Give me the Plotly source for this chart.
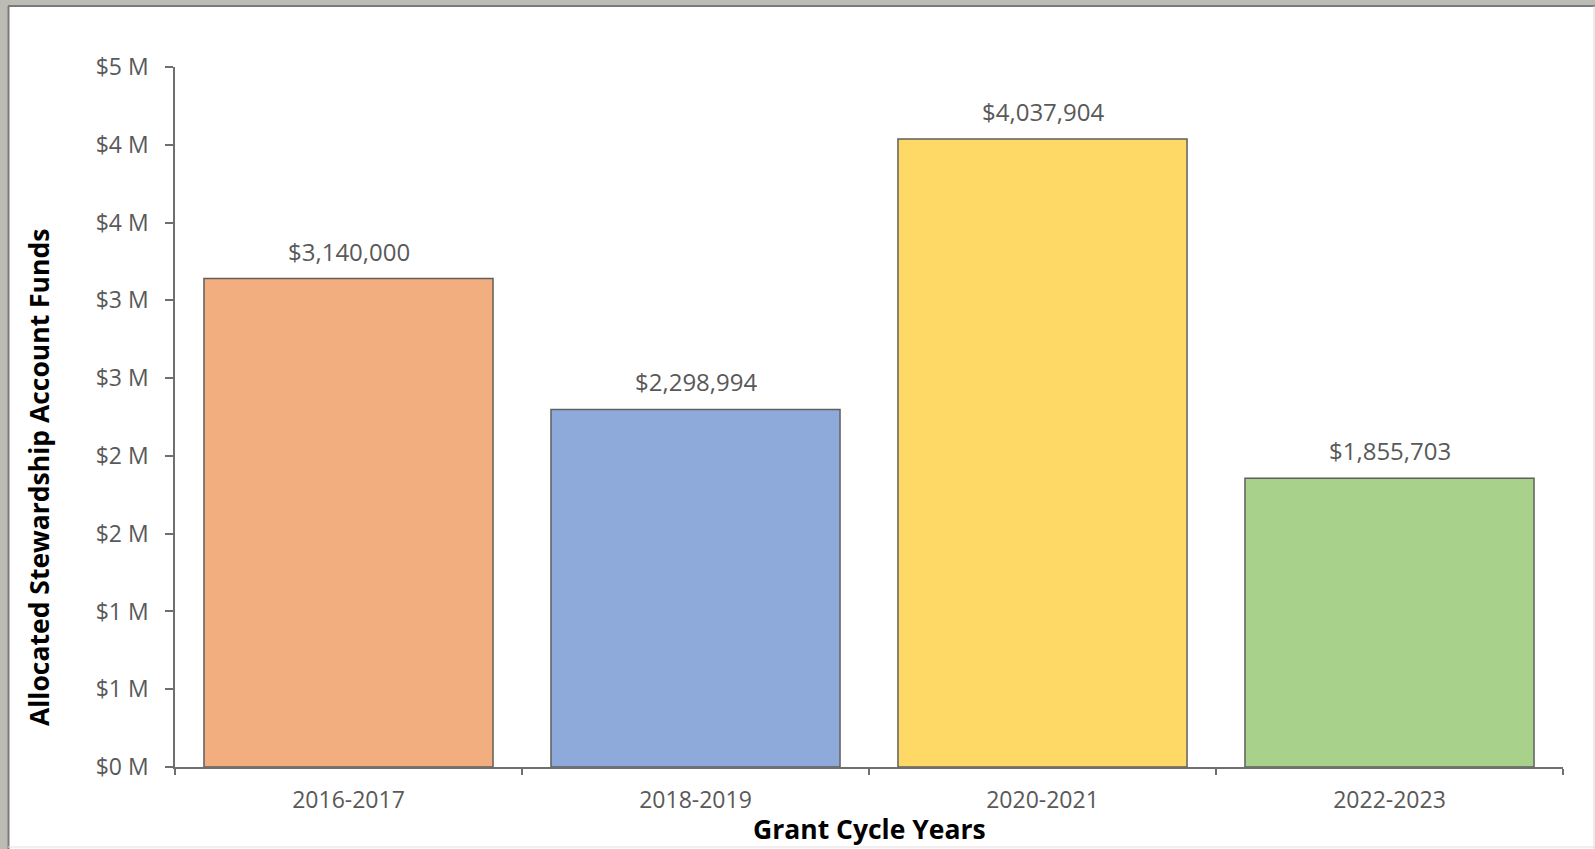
import plotly.graph_objects as go

categories = ["2016-2017", "2018-2019", "2020-2021", "2022-2023"]
values = [3140000, 2298994, 4037904, 1855703]
value_labels = ["$3,140,000", "$2,298,994", "$4,037,904", "$1,855,703"]
bar_colors = ["#F2AE7E", "#8EAADB", "#FFD966", "#A8D18C"]
tick_values = [0, 500000, 1000000, 1500000, 2000000, 2500000, 3000000, 3500000, 4000000, 4500000]
tick_labels = ["$0 M", "$1 M", "$1 M", "$2 M", "$2 M", "$3 M", "$3 M", "$4 M", "$4 M", "$5 M"]

W, H = 1595, 849
L, R, T, B = 175, 32, 67, 82
pw, ph = W - L - R, H - T - B

def px_x(p):
    return (p - L) / pw

def px_y(p):
    return (H - B - p) / ph

FONT = "Open Sans"
GREY = "#595959"

fig = go.Figure()
fig.add_trace(go.Bar(
    x=categories, y=values,
    marker=dict(color=bar_colors, line=dict(color="#5f5f5f", width=1.5)),
    width=0.833,
    hoverinfo="x+y",
))

for c, v, t in zip(categories, values, value_labels):
    fig.add_annotation(x=c, y=v, text=t, showarrow=False, yanchor="bottom",
                       yshift=9, font=dict(family=FONT, size=24, color=GREY))

# axis titles
fig.add_annotation(xref="paper", yref="paper", x=px_x(39), y=px_y(478),
                   text="Allocated Stewardship Account Funds", textangle=-90,
                   showarrow=False, xanchor="center", yanchor="middle",
                   font=dict(family=FONT, size=26.5, color="#000000", weight="bold"))
fig.add_annotation(xref="paper", yref="paper", x=0.5, y=px_y(829),
                   text="Grant Cycle Years", showarrow=False,
                   xanchor="center", yanchor="middle",
                   font=dict(family=FONT, size=26.5, color="#000000", weight="bold"))

# frame
shapes = [
    dict(type="rect", xref="paper", yref="paper", x0=px_x(0), x1=px_x(8), y0=px_y(H), y1=px_y(0),
         fillcolor="#bdbcb4", line=dict(width=0), layer="below"),
    dict(type="rect", xref="paper", yref="paper", x0=px_x(0), x1=px_x(W), y0=px_y(5), y1=px_y(0),
         fillcolor="#bdbcb4", line=dict(width=0), layer="below"),
    dict(type="line", xref="paper", yref="paper", x0=px_x(8.5), x1=px_x(8.5), y0=px_y(H), y1=px_y(6),
         line=dict(color="#7a7a7a", width=2)),
    dict(type="line", xref="paper", yref="paper", x0=px_x(8), x1=px_x(W), y0=px_y(6), y1=px_y(6),
         line=dict(color="#7a7a7a", width=2)),
    dict(type="line", xref="paper", yref="paper", x0=px_x(1594), x1=px_x(1594), y0=px_y(H), y1=px_y(6),
         line=dict(color="#d8d8d8", width=1)),
    dict(type="line", xref="paper", yref="paper", x0=px_x(8), x1=px_x(W), y0=px_y(847), y1=px_y(847),
         line=dict(color="#e0e0e0", width=1)),
]

fig.update_layout(
    width=W, height=H,
    margin=dict(l=L, r=R, t=T, b=B),
    paper_bgcolor="white", plot_bgcolor="white",
    showlegend=False,
    shapes=shapes,
    font=dict(family=FONT, size=18, color=GREY),
    xaxis=dict(
        type="category", tickson="boundaries", ticks="outside", ticklen=6,
        tickcolor="#6f6f6f", tickwidth=1.5,
        showline=True, linecolor="#6f6f6f", linewidth=1.5,
        showgrid=False, ticklabelstandoff=12,
        tickfont=dict(family=FONT, size=23, color=GREY),
    ),
    yaxis=dict(
        range=[0, 4500000], tickvals=tick_values, ticktext=tick_labels,
        ticks="outside", ticklen=8, tickcolor="#6f6f6f", tickwidth=1.5,
        showline=True, linecolor="#6f6f6f", linewidth=1.5,
        showgrid=False, zeroline=False, ticklabelstandoff=12,
        tickfont=dict(family=FONT, size=23, color=GREY),
    ),
)

fig.write_html("out.html", config={"displayModeBar": False},
               post_script="document.body.style.margin='0';")
